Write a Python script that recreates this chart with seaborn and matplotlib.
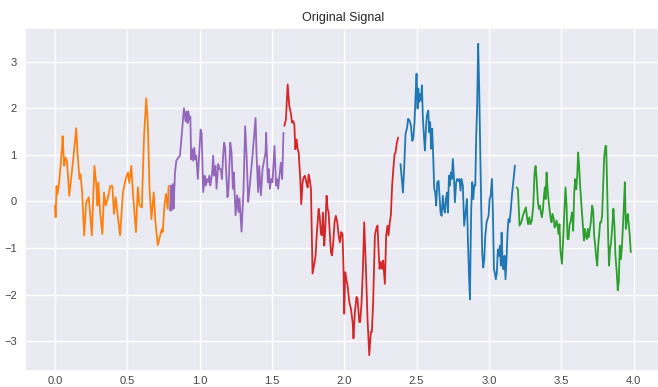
import numpy as np
import matplotlib
matplotlib.use("Agg")
import matplotlib.pyplot as plt
import seaborn as sns

# ---- data ----
t_orange = [0.000, 0.005, 0.011, 0.018, 0.028, 0.050, 0.053, 0.064, 0.073, 0.083, 0.099, 0.119, 0.133, 0.147,
            0.156, 0.170, 0.177, 0.188, 0.202, 0.216, 0.234, 0.255, 0.273, 0.287, 0.294, 0.300, 0.312, 0.328,
            0.339, 0.351, 0.367, 0.383, 0.397, 0.408, 0.420, 0.431, 0.450, 0.470, 0.489, 0.505, 0.514, 0.528,
            0.539, 0.560, 0.573, 0.585, 0.601, 0.615, 0.631, 0.642, 0.654, 0.667, 0.683, 0.695, 0.711, 0.722,
            0.739, 0.745, 0.757, 0.768, 0.780, 0.786]
y_orange = [-0.09, -0.34, 0.33, 0.16, 0.37, 1.18, 1.40, 0.76, 0.94, 0.87, 0.12, 0.69, 1.11, 1.57,
            1.04, 0.48, 0.58, 0.19, -0.73, -0.02, 0.09, -0.73, 0.76, 0.33, -0.09, 0.40, -0.23, -0.70,
            0.19, -0.09, 0.09, 0.33, 0.33, -0.27, 0.09, -0.23, -0.73, 0.19, 0.48, 0.62, 0.40, 0.76,
            0.19, -0.66, 0.30, -0.09, -0.13, 1.33, 2.21, 1.68, 0.26, -0.38, 0.19, -0.45, -0.94, -0.80,
            -0.59, -0.66, -0.09, 0.16, -0.16, 0.33]

t_purple = [0.796, 0.801, 0.807, 0.816, 0.820, 0.830, 0.839, 0.853, 0.864, 0.876, 0.885, 0.892, 0.903, 0.910,
            0.917, 0.922, 0.931, 0.936, 0.942, 0.949, 0.956, 0.963, 0.970, 0.977, 0.988, 0.998, 1.007, 1.014,
            1.025, 1.035, 1.041, 1.048, 1.058, 1.067, 1.074, 1.081, 1.087, 1.094, 1.101, 1.110, 1.117, 1.129,
            1.138, 1.147, 1.154, 1.163, 1.170, 1.177, 1.184, 1.193, 1.200, 1.212, 1.221, 1.230, 1.237, 1.249,
            1.260, 1.269, 1.276, 1.290, 1.304, 1.315, 1.325, 1.336, 1.345, 1.355, 1.366, 1.387, 1.394, 1.405,
            1.412, 1.424, 1.435, 1.456, 1.460, 1.472, 1.479, 1.486, 1.495, 1.504, 1.518, 1.529, 1.536, 1.543,
            1.552, 1.562, 1.571, 1.580]
y_purple = [-0.20, 0.34, -0.19, 0.37, -0.16, 0.62, 0.87, 0.94, 0.98, 1.40, 1.75, 2.00, 1.72, 1.93,
            1.68, 1.93, 1.75, 1.82, 0.90, 1.12, 0.87, 1.15, 0.90, 0.98, 0.48, 1.05, 1.54, 1.47,
            0.20, 0.55, 0.34, 0.48, 0.41, 0.55, 0.34, 0.48, 0.62, 0.98, 0.55, 0.76, 0.27, 0.80,
            0.69, 0.69, 0.48, 0.98, 1.26, 1.15, 0.62, 0.09, 0.27, 1.26, 1.05, 0.27, 0.62, -0.30,
            0.13, -0.23, 0.06, -0.65, 0.27, 1.61, 0.98, -0.01, 0.27, 0.62, 0.98, 1.79, 0.98, 0.20,
            0.76, 0.13, 0.69, 1.05, 1.47, 0.41, 0.69, 0.27, 0.48, 0.41, 1.19, 0.34, 0.48, 0.27,
            0.55, 0.83, 0.48, 1.47]

t_red = [1.586, 1.597, 1.609, 1.620, 1.632, 1.639, 1.648, 1.655, 1.662, 1.671, 1.678, 1.685, 1.696, 1.703,
         1.712, 1.719, 1.728, 1.738, 1.747, 1.754, 1.763, 1.770, 1.781, 1.793, 1.802, 1.811, 1.823, 1.830,
         1.839, 1.846, 1.853, 1.862, 1.869, 1.878, 1.885, 1.892, 1.901, 1.908, 1.915, 1.924, 1.933, 1.942,
         1.952, 1.961, 1.970, 1.979, 1.988, 1.995, 2.000, 2.007, 2.014, 2.023, 2.035, 2.046, 2.058, 2.064,
         2.074, 2.085, 2.092, 2.104, 2.110, 2.120, 2.129, 2.138, 2.150, 2.161, 2.173, 2.184, 2.191, 2.200,
         2.212, 2.221, 2.230, 2.237, 2.244, 2.253, 2.262, 2.269, 2.281, 2.290, 2.299, 2.306, 2.315, 2.322,
         2.331, 2.341, 2.348, 2.355, 2.364, 2.373]
y_red = [1.62, 1.76, 2.51, 2.05, 1.87, 1.69, 1.72, 1.65, 1.12, 1.33, 1.12, 1.05, 0.48, -0.06,
         0.41, 0.51, 0.55, 0.41, 0.30, 0.58, 0.44, 0.26, -1.55, -1.34, -1.16, -0.66, -0.16, -0.31,
         -0.70, -0.73, -0.24, -0.95, -0.59, 0.12, -0.16, -0.24, -0.73, -1.09, -1.16, -0.88, -0.45, -0.31,
         -0.45, -0.73, -0.88, -0.66, -0.70, -1.45, -2.41, -1.52, -1.66, -1.80, -2.16, -2.30, -2.59, -2.94,
         -2.37, -2.05, -2.09, -2.59, -2.59, -2.16, -1.45, -0.45, -1.45, -2.52, -3.30, -2.80, -2.80, -2.16,
         -0.73, -0.59, -0.52, -1.02, -1.45, -1.30, -1.45, -1.27, -1.77, -0.73, -0.52, -0.73, -0.45, -0.31,
         0.33, 0.76, 1.01, 1.05, 1.26, 1.37]

t_blue = [2.389, 2.396, 2.406, 2.415, 2.424, 2.435, 2.442, 2.452, 2.461, 2.470, 2.477, 2.486, 2.493, 2.500,
          2.507, 2.512, 2.516, 2.523, 2.530, 2.537, 2.544, 2.551, 2.558, 2.565, 2.571, 2.581, 2.588, 2.594,
          2.601, 2.608, 2.615, 2.622, 2.629, 2.636, 2.643, 2.652, 2.659, 2.666, 2.673, 2.682, 2.689, 2.696,
          2.703, 2.710, 2.717, 2.724, 2.730, 2.737, 2.744, 2.751, 2.758, 2.765, 2.774, 2.781, 2.788, 2.797,
          2.804, 2.811, 2.820, 2.829, 2.839, 2.848, 2.855, 2.862, 2.869, 2.873, 2.878, 2.885, 2.892, 2.899,
          2.906, 2.912, 2.919, 2.926, 2.933, 2.940, 2.947, 2.954, 2.961, 2.968, 2.975, 2.984, 2.991, 2.998,
          3.005, 3.012, 3.021, 3.028, 3.035, 3.041, 3.048, 3.055, 3.062, 3.069, 3.076, 3.083, 3.088, 3.094,
          3.101, 3.108, 3.115, 3.122, 3.129, 3.136, 3.143, 3.152, 3.161, 3.171, 3.180]
y_blue = [0.80, 0.55, 0.19, 0.77, 1.45, 1.59, 1.77, 1.73, 1.63, 1.30, 1.34, 1.70, 2.27, 2.74,
          1.99, 2.42, 2.13, 2.31, 2.16, 2.49, 1.77, 1.41, 1.09, 1.56, 1.84, 1.95, 1.48, 1.70,
          1.13, 1.56, 0.98, 0.27, 0.19, -0.09, 0.41, 0.44, 0.12, -0.24, -0.31, 0.12, -0.16, -0.24,
          0.05, 0.19, -0.24, 0.55, 0.34, 0.62, 0.48, 0.91, 0.55, -0.02, 0.41, 0.48, 0.44, 0.48,
          0.23, 0.48, 0.34, -0.52, -0.24, 0.05, -0.81, -1.53, -2.10, -1.17, -0.16, 0.41, 0.05, 0.34,
          0.34, 1.34, 2.06, 3.38, 2.42, 1.13, -0.09, -1.10, -1.42, -1.24, -0.74, -0.45, -0.38, -0.31,
          0.05, 0.12, 0.48, -0.24, -1.46, -1.53, -1.67, -1.53, -1.03, -1.17, -0.95, -1.38, -0.67, -1.24,
          -1.46, -1.17, -1.67, -1.24, -0.67, -0.38, -0.45, -0.16, 0.19, 0.48, 0.77]

t_green = [3.192, 3.201, 3.212, 3.224, 3.235, 3.247, 3.256, 3.265, 3.272, 3.279, 3.288, 3.297, 3.307, 3.316,
           3.323, 3.330, 3.339, 3.346, 3.353, 3.360, 3.366, 3.373, 3.380, 3.387, 3.392, 3.399, 3.406, 3.413,
           3.419, 3.426, 3.433, 3.440, 3.449, 3.454, 3.461, 3.468, 3.475, 3.482, 3.488, 3.495, 3.505, 3.514,
           3.523, 3.530, 3.537, 3.544, 3.551, 3.558, 3.564, 3.571, 3.576, 3.583, 3.590, 3.597, 3.604, 3.611,
           3.617, 3.624, 3.631, 3.640, 3.647, 3.657, 3.663, 3.670, 3.677, 3.684, 3.691, 3.698, 3.705, 3.714,
           3.721, 3.728, 3.735, 3.742, 3.749, 3.756, 3.762, 3.769, 3.776, 3.783, 3.790, 3.797, 3.806, 3.811,
           3.818, 3.825, 3.831, 3.838, 3.845, 3.855, 3.861, 3.868, 3.875, 3.884, 3.891, 3.898, 3.905, 3.912,
           3.919, 3.926, 3.933, 3.940, 3.947, 3.954, 3.960, 3.967, 3.974, 3.981]
y_green = [0.30, 0.26, -0.52, -0.45, -0.31, -0.20, -0.13, -0.38, -0.49, -0.34, -0.49, -0.41, -0.09, 0.62,
           0.76, 0.48, -0.02, -0.16, -0.09, -0.24, -0.34, -0.20, 0.09, 0.30, 0.05, 0.62, 0.26, 0.01,
           -0.16, -0.34, -0.45, -0.27, -0.38, -0.56, -0.52, -0.41, -0.52, -0.70, -0.49, -1.06, -1.34, -0.81,
           -0.13, 0.30, -0.09, -0.81, -0.81, -0.49, -0.45, -0.31, -0.24, -0.63, 0.19, 0.48, 0.26, 0.55,
           1.05, 0.76, 0.34, -0.09, -0.38, -0.84, -0.59, -0.74, -0.81, -0.59, -0.77, -0.59, -0.45, -0.09,
           -0.20, -0.74, -0.95, -1.20, -1.38, -0.95, -0.74, -0.45, -0.45, -0.31, 0.34, 0.94, 1.19, 1.19,
           0.26, -0.81, -1.38, -1.02, -0.88, -0.45, -0.16, -0.52, -1.16, -1.52, -1.91, -1.74, -0.95, -1.24,
           -1.02, -0.59, -0.13, 0.41, -0.59, -0.38, -0.27, -0.49, -0.74, -1.09]

segments = [
    (t_orange, y_orange, "#ff7f0e"),
    (t_purple, y_purple, "#9467bd"),
    (t_red, y_red, "#d62728"),
    (t_blue, y_blue, "#1f77b4"),
    (t_green, y_green, "#2ca02c"),
]

title = "Original Signal"
xticks = [0.0, 0.5, 1.0, 1.5, 2.0, 2.5, 3.0, 3.5, 4.0]
yticks = [-3, -2, -1, 0, 1, 2, 3]

# ---- plot ----
sns.set_theme(style="darkgrid")
plt.rcParams["font.family"] = ["Liberation Sans", "DejaVu Sans"]

W, H = 658, 387
fig = plt.figure(figsize=(W / 100, H / 100), dpi=100)
left, right, top, bottom = 25, 661, 28, 371
ax = fig.add_axes([left / W, (H - bottom) / H, (right - left) / W, (bottom - top) / H])

for t, y, c in segments:
    sns.lineplot(x=t, y=y, color=c, linewidth=1.3, ax=ax, sort=False)

ax.set_xlim(-0.207, 4.19)
ax.set_ylim(-3.64, 3.72)
ax.set_xticks(xticks)
ax.set_xticklabels([f"{v:.1f}" for v in xticks])
ax.set_yticks(yticks)
ax.set_yticklabels([f"{v}".replace("-", "\u2212") for v in yticks])
ax.tick_params(labelsize=8, colors="#444444", length=0)
ax.tick_params(axis="x", pad=3.5)
ax.tick_params(axis="y", pad=6)
ax.set_title(title, fontsize=9, color="#262626", pad=5)
ax.set_xlabel("")
ax.set_ylabel("")

fig.savefig("out.png", dpi=100)
